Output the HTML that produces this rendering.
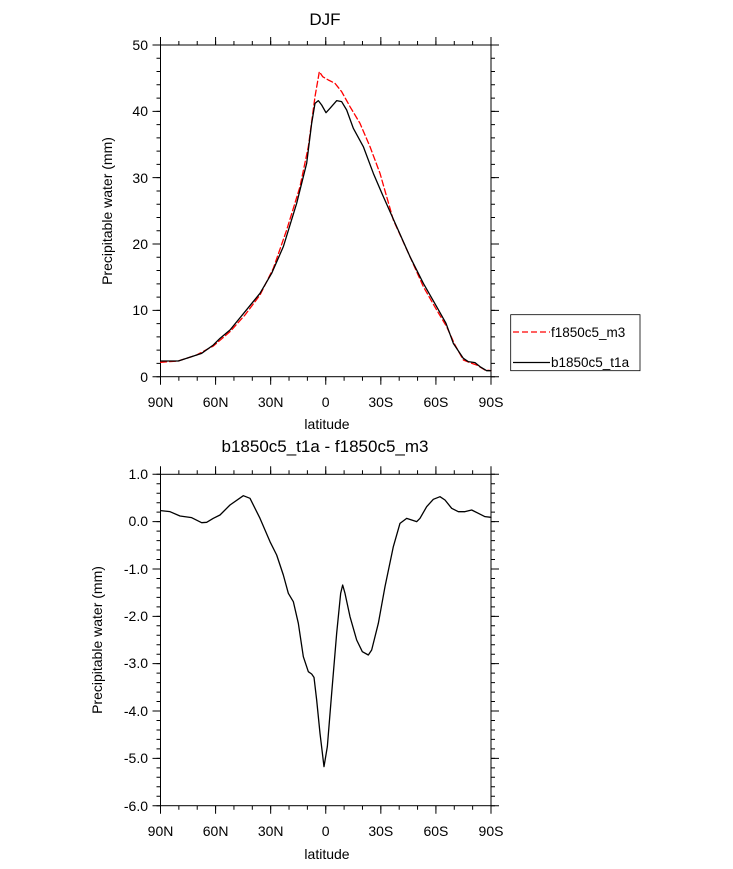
<!DOCTYPE html>
<html><head><meta charset="utf-8"><style>
body{margin:0;background:#fff;}
svg{display:block;font-family:"Liberation Sans",sans-serif;}
</style></head><body>
<svg width="733" height="869" viewBox="0 0 733 869" xmlns="http://www.w3.org/2000/svg">
<rect width="733" height="869" fill="#fff"/>
<text x="325" y="25" font-size="17" text-anchor="middle">DJF</text>
<g stroke="#000" stroke-width="1" fill="none">
<rect x="160.5" y="45" width="330.5" height="331.7"/>
<rect x="160.5" y="474.3" width="330.5" height="331.4"/>
</g>
<!-- ticks via dashed thick lines -->
<g stroke="#000" fill="none">
<!-- top plot x ticks: bottom -->
<line x1="160" y1="378.7" x2="492" y2="378.7" stroke-width="4" stroke-dasharray="1,17.361"/>
<line x1="160" y1="380.7" x2="492" y2="380.7" stroke-width="8" stroke-dasharray="1,54.083"/>
<line x1="160" y1="43" x2="492" y2="43" stroke-width="4" stroke-dasharray="1,17.361"/>
<line x1="160" y1="41" x2="492" y2="41" stroke-width="8" stroke-dasharray="1,54.083"/>
<!-- top plot y ticks -->
<line x1="158.5" y1="44.5" x2="158.5" y2="377.5" stroke-width="4" stroke-dasharray="1,12.268"/>
<line x1="156.5" y1="44.5" x2="156.5" y2="377.5" stroke-width="8" stroke-dasharray="1,65.34"/>
<line x1="493" y1="44.5" x2="493" y2="377.5" stroke-width="4" stroke-dasharray="1,12.268"/>
<line x1="495" y1="44.5" x2="495" y2="377.5" stroke-width="8" stroke-dasharray="1,65.34"/>
<!-- bottom plot x ticks -->
<line x1="160" y1="807.7" x2="492" y2="807.7" stroke-width="4" stroke-dasharray="1,17.361"/>
<line x1="160" y1="809.7" x2="492" y2="809.7" stroke-width="8" stroke-dasharray="1,54.083"/>
<line x1="160" y1="472.3" x2="492" y2="472.3" stroke-width="4" stroke-dasharray="1,17.361"/>
<line x1="160" y1="470.3" x2="492" y2="470.3" stroke-width="8" stroke-dasharray="1,54.083"/>
<!-- bottom plot y ticks -->
<line x1="158.5" y1="473.8" x2="158.5" y2="806.5" stroke-width="4" stroke-dasharray="1,8.4686"/>
<line x1="156.5" y1="473.8" x2="156.5" y2="806.5" stroke-width="8" stroke-dasharray="1,46.343"/>
<line x1="493" y1="473.8" x2="493" y2="806.5" stroke-width="4" stroke-dasharray="1,8.4686"/>
<line x1="495" y1="473.8" x2="495" y2="806.5" stroke-width="8" stroke-dasharray="1,46.343"/>
</g>
<g font-size="14" text-anchor="end">
<text x="148" y="50">50</text><text x="148" y="116">40</text><text x="148" y="183">30</text>
<text x="148" y="249">20</text><text x="148" y="315">10</text><text x="148" y="382">0</text>
</g>
<g font-size="14" text-anchor="middle">
<text x="160.5" y="407">90N</text><text x="215.6" y="407">60N</text><text x="270.7" y="407">30N</text>
<text x="325.7" y="407">0</text><text x="380.8" y="407">30S</text><text x="435.9" y="407">60S</text><text x="491" y="407">90S</text>
<text x="327" y="429">latitude</text>
</g>
<text transform="translate(112,211) rotate(-90)" font-size="14" text-anchor="middle">Precipitable water (mm)</text>

<g transform="translate(130,30) scale(0.33333)" fill="none" stroke-linejoin="round" stroke-linecap="round">
<path vector-effect="non-scaling-stroke" stroke="#f00" stroke-width="1.3" stroke-dasharray="6,3" d="M92,997 L145,993 L200,975 L250,948 L300,905 L345,855 L390,795 L430,715 L470,600 L510,470 L535,350 L555,200 L568,125 L578,140 L595,150 L615,160 L635,185 L660,230 L690,280 L720,350 L750,430 L790,570 L840,680 L880,770 L920,840 L950,890 L975,945 L1000,990 L1020,998 L1040,1005 L1065,1020 L1083,1022"/>
<path vector-effect="non-scaling-stroke" stroke="#000" stroke-width="1.3" d="M92,993 L145,993 L200,975 L215,970 L250,945 L270,925 L300,900 L345,845 L390,790 L425,730 L460,650 L500,520 L530,400 L545,280 L555,220 L565,212 L575,225 L588,248 L600,235 L620,212 L635,215 L650,240 L670,295 L700,350 L730,430 L760,500 L800,590 L840,680 L880,760 L920,830 L948,880 L970,940 L1000,985 L1015,995 L1035,998 L1050,1010 L1070,1022 L1083,1022"/>
</g>

<rect x="510.7" y="314.7" width="129.3" height="56" fill="none" stroke="#000" stroke-width="0.8"/>
<line x1="513" y1="332" x2="550" y2="332" stroke="#f00" stroke-width="1.3" stroke-dasharray="6,3"/>
<line x1="513" y1="362.5" x2="550" y2="362.5" stroke="#000" stroke-width="1.3"/>
<text x="551" y="337" font-size="13.5">f1850c5_m3</text>
<text x="551" y="367" font-size="13.5">b1850c5_t1a</text>

<text x="325" y="452" font-size="17" text-anchor="middle">b1850c5_t1a - f1850c5_m3</text>
<g font-size="14" text-anchor="end">
<text x="148" y="479">1.0</text><text x="148" y="526">0.0</text><text x="148" y="574">-1.0</text>
<text x="148" y="621">-2.0</text><text x="148" y="668">-3.0</text><text x="148" y="716">-4.0</text>
<text x="148" y="763">-5.0</text><text x="148" y="811">-6.0</text>
</g>
<g font-size="14" text-anchor="middle">
<text x="160.5" y="836">90N</text><text x="215.6" y="836">60N</text><text x="270.7" y="836">30N</text>
<text x="325.7" y="836">0</text><text x="380.8" y="836">30S</text><text x="435.9" y="836">60S</text><text x="491" y="836">90S</text>
<text x="327" y="859">latitude</text>
</g>
<text transform="translate(102,640) rotate(-90)" font-size="14" text-anchor="middle">Precipitable water (mm)</text>

<g transform="translate(130,460) scale(0.33333)" fill="none" stroke-linejoin="round" stroke-linecap="round">
<path vector-effect="non-scaling-stroke" stroke="#000" stroke-width="1.3" d="M92,152 L120,155 L150,168 L185,173 L215,188 L230,187 L250,175 L270,165 L300,135 L340,107 L360,115 L390,175 L420,245 L440,285 L460,345 L475,400 L490,425 L505,490 L520,590 L535,635 L545,642 L552,652 L560,720 L570,820 L582,920 L592,860 L605,700 L620,520 L632,400 L638,375 L645,400 L660,470 L680,540 L697,575 L715,585 L725,570 L745,490 L765,380 L790,260 L810,190 L830,175 L845,180 L860,185 L870,175 L890,140 L910,118 L930,110 L945,120 L965,145 L985,155 L1005,155 L1025,150 L1045,160 L1065,170 L1083,172"/>
</g>
</svg>
</body></html>
